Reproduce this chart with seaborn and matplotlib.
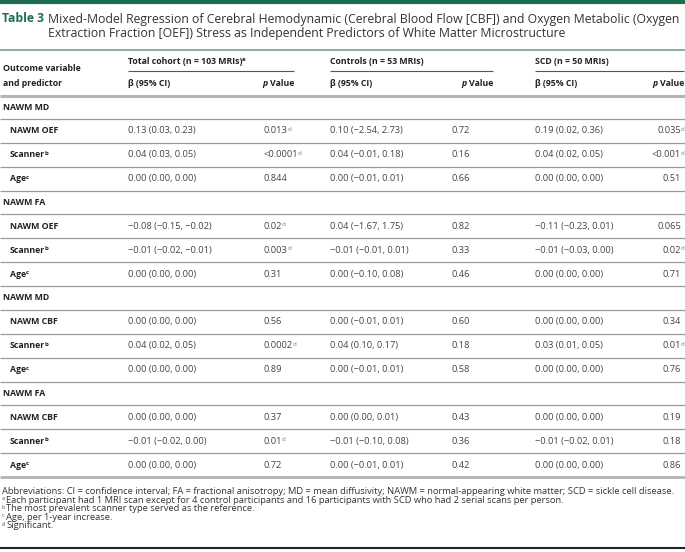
import seaborn as sns
import matplotlib.pyplot as plt

sns.set_theme(style="white")
plt.rcParams['font.family'] = ['Open Sans', 'DejaVu Sans']

# ---- data ----
title_1 = ("Mixed-Model Regression of Cerebral Hemodynamic (Cerebral Blood Flow [CBF]) "
           "and Oxygen Metabolic (Oxygen")
title_2 = "Extraction Fraction [OEF]) Stress as Independent Predictors of White Matter Microstructure"

groups = ["Total cohort (n = 103 MRIs)", "Controls (n = 53 MRIs)", "SCD (n = 50 MRIs)"]
group_marks = ["a", "", ""]

sections = ["NAWM MD", "NAWM FA", "NAWM MD", "NAWM FA"]
predictors = ["NAWM OEF", "Scanner", "Age", "NAWM OEF", "Scanner", "Age",
              "NAWM CBF", "Scanner", "Age", "NAWM CBF", "Scanner", "Age"]
pred_marks = ["", "b", "c"] * 4

total_est = [0.13, 0.04, 0.00, -0.08, -0.01, 0.00, 0.00, 0.04, 0.00, 0.00, -0.01, 0.00]
total_lo = [0.03, 0.03, 0.00, -0.15, -0.02, 0.00, 0.00, 0.02, 0.00, 0.00, -0.02, 0.00]
total_hi = [0.23, 0.05, 0.00, -0.02, -0.01, 0.00, 0.00, 0.05, 0.00, 0.00, 0.00, 0.00]
total_p = ["0.013", "<0.0001", "0.844", "0.02", "0.003", "0.31",
           "0.56", "0.0002", "0.89", "0.37", "0.01", "0.72"]
total_sig = [1, 1, 0, 1, 1, 0, 0, 1, 0, 0, 1, 0]

ctrl_est = [0.10, 0.04, 0.00, 0.04, -0.01, 0.00, 0.00, 0.04, 0.00, 0.00, -0.01, 0.00]
ctrl_lo = [-2.54, -0.01, -0.01, -1.67, -0.01, -0.10, -0.01, 0.10, -0.01, 0.00, -0.10, -0.01]
ctrl_hi = [2.73, 0.18, 0.01, 1.75, 0.01, 0.08, 0.01, 0.17, 0.01, 0.01, 0.08, 0.01]
ctrl_p = ["0.72", "0.16", "0.66", "0.82", "0.33", "0.46",
          "0.60", "0.18", "0.58", "0.43", "0.36", "0.42"]
ctrl_sig = [0] * 12

scd_est = [0.19, 0.04, 0.00, -0.11, -0.01, 0.00, 0.00, 0.03, 0.00, 0.00, -0.01, 0.00]
scd_lo = [0.02, 0.02, 0.00, -0.23, -0.03, 0.00, 0.00, 0.01, 0.00, 0.00, -0.02, 0.00]
scd_hi = [0.36, 0.05, 0.00, 0.01, 0.00, 0.00, 0.00, 0.05, 0.00, 0.00, 0.01, 0.00]
scd_p = ["0.035", "<0.001", "0.51", "0.065", "0.02", "0.71",
         "0.34", "0.01", "0.76", "0.19", "0.18", "0.86"]
scd_sig = [1, 1, 0, 0, 1, 0, 0, 1, 0, 0, 0, 0]

abbrev = ("Abbreviations: CI = confidence interval; FA = fractional anisotropy; MD = mean diffusivity; "
          "NAWM = normal-appearing white matter; SCD = sickle cell disease.")
note_marks = ["a", "b", "c", "d"]
notes = ["Each participant had 1 MRI scan except for 4 control participants and 16 participants "
         "with SCD who had 2 serial scans per person.",
         "The most prevalent scanner type served as the reference.",
         "Age, per 1-year increase.",
         "Significant."]

# ---- layout ----
green = "#1d6e4e"
txt = "#444444"
head = "#222222"
body = 6.7   # regular cell text
bold = 6.3   # bold labels

fig = plt.figure(figsize=(6.85, 5.52), dpi=100)
ax = fig.add_axes([0, 0, 1, 1])
ax.set_xlim(0, 685)
ax.set_ylim(552, 0)
ax.axis('off')
fig.canvas.draw()
renderer = fig.canvas.get_renderer()


def fit(t, width):
    w = t.get_window_extent(renderer).width
    t.set_fontsize(t.get_fontsize() * width / w)


def sup(t, s, size=4.3, color=None):
    ax.annotate(s, xy=(1.0, 0.95), xycoords=t, xytext=(-0.4, 0), textcoords='offset points',
                ha='left', va='top', fontsize=size,
                color=color or t.get_color(), fontweight=t.get_fontweight())


def fmt(v):
    return f"{v:.2f}".replace("-", "\u2212")


def hline(y, x0=0, x1=685, **kw):
    ax.plot([x0, x1], [y, y], solid_capstyle='butt', **kw)


# top bar and title
hline(1.8, color=green, lw=3)
tt = ax.text(2, 19, "Table 3", color=green, fontweight='bold', fontsize=9, va='center')
fit(tt, 42)
t1 = ax.text(48, 19, title_1, color="#333333", fontsize=9, va='center')
fit(t1, 635)
ax.text(48, 34, title_2, color="#333333", fontsize=t1.get_fontsize(), va='center')
hline(49.5, color="#6f9683", lw=1.1)

# column headers
beta_x = [128, 330, 535]
p_x = [264, 452, 681]
p_head_x = [294, 493, 684]
for gx, ph, g, m in zip(beta_x, p_head_x, groups, group_marks):
    t = ax.text(gx, 61.5, g, fontsize=bold, fontweight='bold', color=head, va='center')
    if m:
        sup(t, m)
    hline(71, gx, ph, color="#555555", lw=0.8)
    ax.text(gx, 84, "\u03b2 (95% CI)", fontsize=bold, fontweight='bold', color=head, va='center')
    v = ax.text(ph, 84, "Value", fontsize=bold, fontweight='bold', color=head, va='center', ha='right')
    ax.annotate("p", xy=(0, 0), xycoords=v, xytext=(-1.6, 0), textcoords='offset points',
                ha='right', va='bottom', fontsize=bold,
                fontweight='bold', style='italic', color=head)
ax.text(3, 68.5, "Outcome variable", fontsize=bold, fontweight='bold', color=head, va='center')
ax.text(3, 84, "and predictor", fontsize=bold, fontweight='bold', color=head, va='center')
hline(96, color="#b4b4b4", lw=2.2)

# body rows
cols = [(total_est, total_lo, total_hi, total_p, total_sig),
        (ctrl_est, ctrl_lo, ctrl_hi, ctrl_p, ctrl_sig),
        (scd_est, scd_lo, scd_hi, scd_p, scd_sig)]
step = 23.87
row = 0
for s_i, sec in enumerate(sections):
    y = 107 + step * row
    ax.text(3, y, sec, fontsize=bold, fontweight='bold', color=head, va='center')
    hline(y + 12, color="#9a9a9a", lw=0.9)
    row += 1
    for k in range(3):
        i = s_i * 3 + k
        y = 107 + step * row
        t = ax.text(10, y, predictors[i], fontsize=bold, fontweight='bold', color=head, va='center')
        if pred_marks[i]:
            sup(t, pred_marks[i])
        for c, (est, lo, hi, pv, sig) in enumerate(cols):
            ax.text(beta_x[c], y, f"{fmt(est[i])} ({fmt(lo[i])}, {fmt(hi[i])})",
                    fontsize=body, color=txt, va='center')
            ha = 'right' if c == 2 else 'left'
            tp = ax.text(p_x[c], y, pv[i], fontsize=body, color=txt, va='center', ha=ha)
            if sig[i]:
                sup(tp, "d", color="#7a7a7a")
        last = (s_i == len(sections) - 1 and k == 2)
        if last:
            hline(y + 12, color="#b4b4b4", lw=2.0)
        else:
            hline(y + 12, color="#9a9a9a", lw=0.9)
        row += 1

# footnotes
ta = ax.text(2, 492, abbrev, fontsize=6, color="#333333", va='center')
fit(ta, 681)
fs = ta.get_fontsize()
for j, (m, n) in enumerate(zip(note_marks, notes)):
    y = 500.5 + 8.4 * j
    ax.text(2, y - 1.5, m, fontsize=fs * 0.6, color="#555555", va='center')
    ax.text(6.5, y, n, fontsize=fs, color="#333333", va='center')
hline(547.5, color="#222222", lw=1.5)

fig.savefig("out.png", dpi=100)
